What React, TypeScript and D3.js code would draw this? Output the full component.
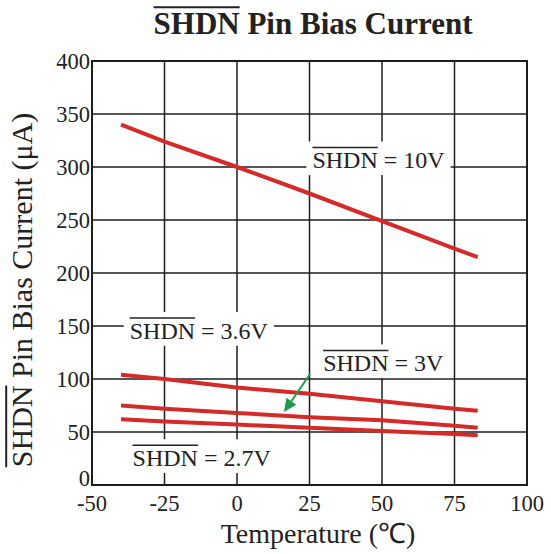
import React, { useEffect, useRef } from 'react';
import * as d3 from 'd3';

const temps = [-40, -25, 0, 25, 50, 75, 83];
const shdn10V = [340, 324, 300, 275, 249, 223, 215];
const shdn36V = [104, 100, 92, 86, 79, 72, 70];
const shdn3V = [75, 72, 68, 64, 61, 56, 54];
const shdn27V = [62, 60, 57, 54, 51, 48, 47];
const seriesList = [shdn10V, shdn36V, shdn3V, shdn27V];

const xTicks = [-50, -25, 0, 25, 50, 75, 100];
const yTicks = [0, 50, 100, 150, 200, 250, 300, 350, 400];

// annotation labels: text after the overlined "SHDN", anchored at (temp, value)
const labels = [
    { rest: ' = 10V', t: 26, v: 299 },
    { rest: ' = 3.6V', t: -37, v: 138 },
    { rest: ' = 3V', t: 29.7, v: 107.5 },
    { rest: ' = 2.7V', t: -36, v: 18 },
];

const FONT = '"Liberation Serif", "Times New Roman", serif';

export default function App() {
    const svgRef = useRef<SVGSVGElement | null>(null);

    useEffect(() => {
        if (!svgRef.current) return;
        const svg = d3.select(svgRef.current);
        svg.selectAll('*').remove();

        const width = 551;
        const height = 554;
        const left = 92, right = 527, top = 61, bottom = 485;

        const x = d3.scaleLinear().domain([-50, 100]).range([left, right]);
        const y = d3.scaleLinear().domain([0, 400]).range([bottom, top]);

        svg.attr('width', width).attr('height', height);
        svg.append('rect').attr('width', width).attr('height', height).attr('fill', '#fff');

        // grid
        const grid = svg.append('g').attr('stroke', '#1e1e1e').attr('stroke-width', 1.5);
        grid.selectAll('.gx')
            .data(xTicks.slice(1, -1))
            .enter().append('line')
            .attr('x1', d => x(d)).attr('x2', d => x(d))
            .attr('y1', top).attr('y2', bottom);
        grid.selectAll('.gy')
            .data(yTicks.slice(1, -1))
            .enter().append('line')
            .attr('x1', left).attr('x2', right)
            .attr('y1', d => y(d)).attr('y2', d => y(d));

        svg.append('rect')
            .attr('x', left).attr('y', top)
            .attr('width', right - left).attr('height', bottom - top)
            .attr('fill', 'none').attr('stroke', '#1e1e1e').attr('stroke-width', 2);

        // tick labels
        svg.append('g').selectAll('text')
            .data(xTicks)
            .enter().append('text')
            .attr('x', d => x(d)).attr('y', bottom + 26)
            .attr('text-anchor', 'middle')
            .attr('font-family', FONT).attr('font-size', 22.5).attr('fill', '#222')
            .text(d => d);
        svg.append('g').selectAll('text')
            .data(yTicks)
            .enter().append('text')
            .attr('x', left - 2).attr('y', d => y(d) + (d === 0 ? 1 : 8))
            .attr('text-anchor', 'end')
            .attr('font-family', FONT).attr('font-size', 22.5).attr('fill', '#222')
            .text(d => d);

        // series
        const line = d3.line<number>()
            .x((_, i) => x(temps[i]))
            .y(d => y(d));
        svg.append('g').selectAll('path')
            .data(seriesList)
            .enter().append('path')
            .attr('d', d => line(d))
            .attr('fill', 'none')
            .attr('stroke', '#d42a28')
            .attr('stroke-width', 4);

        // overlined SHDN text helper
        const overText = (g: any, rest: string, size: number, weight: string, anchor: 'start' | 'middle') => {
            const t = g.append('text')
                .attr('font-family', FONT).attr('font-size', size)
                .attr('font-weight', weight).attr('fill', '#222');
            const s = t.append('tspan').text('SHDN');
            t.append('tspan').text(rest);
            const sw = (s.node() as SVGTSpanElement).getComputedTextLength();
            const tw = (t.node() as SVGTextElement).getComputedTextLength();
            const x0 = anchor === 'middle' ? -tw / 2 : 0;
            t.attr('x', x0);
            const oy = -size * 0.66 - size * 0.2;
            g.append('line')
                .attr('x1', x0).attr('x2', x0 + sw)
                .attr('y1', oy).attr('y2', oy)
                .attr('stroke', '#222').attr('stroke-width', size > 26 ? 2 : 1.5);
            return { x0, tw, oy };
        };

        // annotation labels with white boxes
        labels.forEach(l => {
            const g = svg.append('g').attr('transform', `translate(${x(l.t)},${y(l.v)})`);
            const bg = g.append('rect').attr('fill', '#fff');
            const m = overText(g, l.rest, 24, 'normal', 'start');
            bg.attr('x', m.x0 - 6).attr('y', m.oy - 6)
                .attr('width', m.tw + 12).attr('height', -m.oy + 13);
        });

        // green arrow
        const a0 = { t: 25.2, v: 104.7 };
        const a1 = { t: 16.2, v: 68.9 };
        const ax0 = x(a0.t), ay0 = y(a0.v), ax1 = x(a1.t), ay1 = y(a1.v);
        const ang = Math.atan2(ay1 - ay0, ax1 - ax0);
        const hl = 13, hw = 6;
        const bx = ax1 - hl * Math.cos(ang), by = ay1 - hl * Math.sin(ang);
        svg.append('line')
            .attr('x1', ax0).attr('y1', ay0).attr('x2', bx).attr('y2', by)
            .attr('stroke', '#1f9a4a').attr('stroke-width', 2);
        svg.append('path')
            .attr('d', `M${ax1},${ay1}L${bx + hw * Math.sin(ang)},${by - hw * Math.cos(ang)}L${bx - hw * Math.sin(ang)},${by + hw * Math.cos(ang)}Z`)
            .attr('fill', '#1f9a4a');

        // title
        const tg = svg.append('g').attr('transform', `translate(313,34)`);
        overText(tg, ' Pin Bias Current', 31, 'bold', 'middle');

        // y axis label
        const yg = svg.append('g').attr('transform', `translate(32,290) rotate(-90)`);
        overText(yg, ' Pin Bias Current (\u03bcA)', 30, 'normal', 'middle');

        // x axis label
        svg.append('text')
            .attr('x', 318).attr('y', 543)
            .attr('text-anchor', 'middle')
            .attr('font-family', FONT).attr('font-size', 28).attr('fill', '#222')
            .text('Temperature (\u2103)');
    }, []);

    return <svg ref={svgRef} style={{ position: 'absolute', left: 0, top: 0 }}></svg>;
}
